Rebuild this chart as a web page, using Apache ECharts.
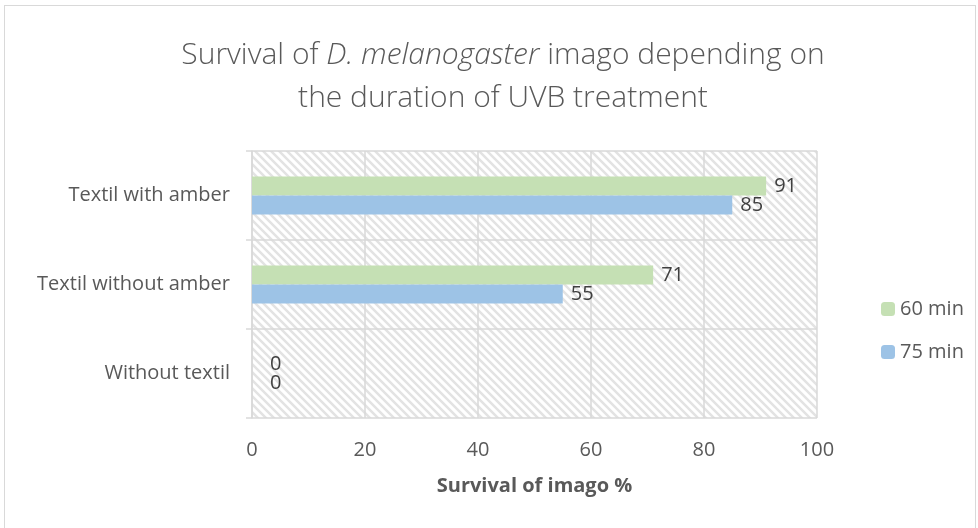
<!DOCTYPE html>
<html>
<head>
<meta charset="utf-8">
<script src="https://cdn.jsdelivr.net/npm/echarts@6/dist/echarts.min.js"></script>
<style>
  html, body { margin: 0; padding: 0; background: #fff; overflow: hidden; }
  #frame { position: absolute; left: 4px; top: 5px; width: 970px; height: 540px; border: 1px solid #d9d9d9; }
  #chart { position: absolute; left: 0; top: 0; width: 978px; height: 528px; }
</style>
</head>
<body>
<div id="frame"></div>
<div id="chart"></div>
<script>
// bottom to top, as the value axis reads
const categories = ['Without textil', 'Textil without amber', 'Textil with amber'];
const min60 = [0, 71, 91];
const min75 = [0, 55, 85];
const xTicks = [0, 20, 40, 60, 80, 100];

const textColor = '#595959';
const lineColor = '#d9d9d9';
const font = 'Open Sans';

// excel-ish "wide downward diagonal" fill for the plot area
function makeHatch() {
  const size = 8;
  const c = document.createElement('canvas');
  c.width = size;
  c.height = size;
  const ctx = c.getContext('2d');
  ctx.fillStyle = '#ffffff';
  ctx.fillRect(0, 0, size, size);
  ctx.strokeStyle = '#e3e3e3';
  ctx.lineWidth = 2.5;
  ctx.beginPath();
  ctx.moveTo(-2, -2);
  ctx.lineTo(size + 2, size + 2);
  ctx.moveTo(-2, size - 2);
  ctx.lineTo(2, size + 2);
  ctx.moveTo(size - 2, -2);
  ctx.lineTo(size + 2, 2);
  ctx.stroke();
  return c;
}

const chart = echarts.init(document.getElementById('chart'), null, { renderer: 'canvas' });

const labelStyle = {
  show: true,
  position: 'right',
  distance: 8,
  color: '#404040',
  fontSize: 20,
  fontFamily: font,
};

// excel pushes the "0" labels a bit further off the axis
function withZeroLabels(values) {
  return values.map((v) => (v === 0 ? { value: v, label: { distance: 18 } } : v));
}

chart.setOption({
  animation: false,
  title: {
    text: 'Survival of {i|D. melanogaster} imago depending on\nthe duration of UVB treatment',
    left: 498,
    textAlign: 'center',
    top: 29,
    textStyle: {
      color: textColor,
      fontSize: 30,
      fontWeight: 300,
      fontFamily: font,
      lineHeight: 43,
      rich: {
        i: { fontStyle: 'italic', fontSize: 30, fontWeight: 300, fontFamily: font, color: textColor, lineHeight: 43 },
      },
    },
  },
  legend: {
    orient: 'vertical',
    left: 876,
    top: 294,
    itemWidth: 14,
    itemHeight: 14,
    itemGap: 23,
    data: ['60 min', '75 min'],
    textStyle: { color: textColor, fontSize: 20, fontFamily: font },
  },
  grid: {
    left: 252,
    right: 161,
    top: 151,
    bottom: 110,
    show: true,
    borderWidth: 0,
    backgroundColor: { image: makeHatch(), repeat: 'repeat' },
  },
  xAxis: {
    type: 'value',
    min: xTicks[0],
    max: xTicks[xTicks.length - 1],
    interval: 20,
    name: 'Survival of imago %',
    nameLocation: 'middle',
    nameGap: 58,
    nameTextStyle: { color: textColor, fontSize: 20, fontWeight: 'bold', fontFamily: font },
    axisLine: { show: false },
    axisTick: { show: false },
    axisLabel: { color: textColor, fontSize: 20, fontFamily: font, margin: 22 },
    splitLine: { show: true, lineStyle: { color: lineColor, width: 1.5 } },
  },
  yAxis: {
    type: 'category',
    data: categories,
    axisLine: { show: true, lineStyle: { color: lineColor, width: 1.5 } },
    axisTick: { show: true, length: 6, lineStyle: { color: lineColor, width: 1.5 } },
    axisLabel: { color: textColor, fontSize: 20, fontFamily: font, margin: 22 },
    splitLine: { show: true, lineStyle: { color: lineColor, width: 1.5 } },
  },
  series: [
    {
      name: '60 min',
      type: 'bar',
      data: withZeroLabels(min60),
      barWidth: 19,
      barGap: '0%',
      itemStyle: { color: '#c5e0b4' },
      label: labelStyle,
    },
    {
      name: '75 min',
      type: 'bar',
      data: withZeroLabels(min75),
      barWidth: 19,
      barGap: '0%',
      itemStyle: { color: '#9dc3e6' },
      label: labelStyle,
    },
  ],
});
</script>
</body>
</html>
